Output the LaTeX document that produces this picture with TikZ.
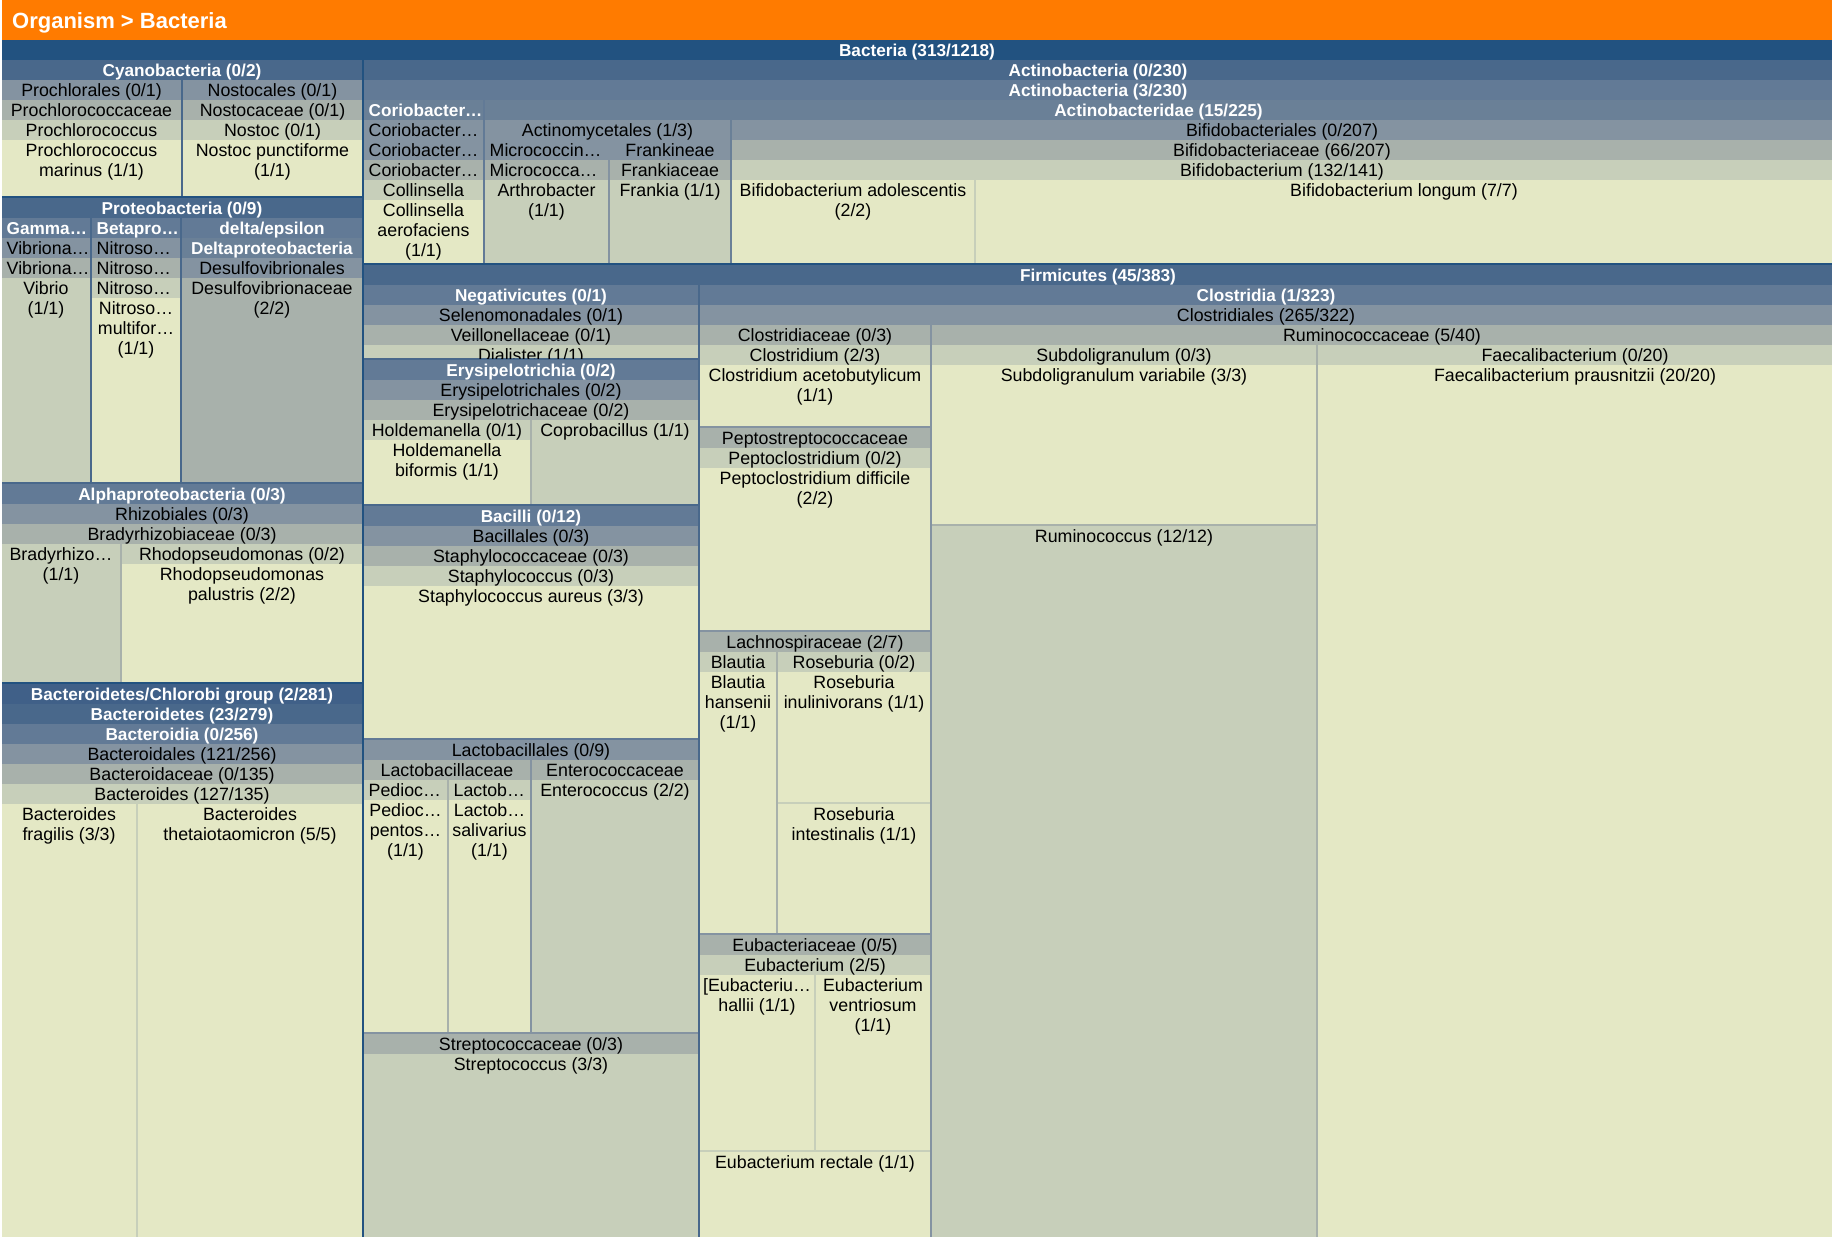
\documentclass[tikz,border=0pt]{standalone}
\usepackage{fontspec}
\setmainfont{Liberation Sans}
\usepackage{tikz}
\definecolor{orangebar}{RGB}{255,123,0}
\definecolor{bactblue}{RGB}{34,82,128}
\definecolor{superblue}{RGB}{64,96,136}
\definecolor{phylblue}{RGB}{73,104,139}
\definecolor{classblue}{RGB}{98,122,150}
\definecolor{subblue}{RGB}{106,128,151}
\definecolor{ordgray}{RGB}{132,147,161}
\definecolor{famgray}{RGB}{168,177,171}
\definecolor{gengreen}{RGB}{199,207,186}
\definecolor{spyellow}{RGB}{228,232,197}

\tikzset{
	lab/.style={font=\fontsize{17.8}{20}\selectfont, text=black, inner sep=0pt, align=center},
	hlab/.style={font=\fontsize{17.2}{20}\selectfont\bfseries, text=white, inner sep=0pt, align=center},
	titlelab/.style={font=\fontsize{22}{26}\selectfont\bfseries, text=white, inner sep=0pt}
}

% box of the treemap: name, fill, label style, x1, y1, x2, y2, text
\newcommand\taxbox[8]{%
	\fill[#2] (#4,#5) rectangle (#6,#7);
	\begin{scope}
		\clip (#4,#5) rectangle (#6,#7);
		\node[#3, anchor=north] (#1) at ({(#4+#6)/2},{#5+2.3}) {\rule{0pt}{14pt}#8};
	\end{scope}}
% same, label cut short and set from the left
\newcommand\taxboxl[8]{%
	\fill[#2] (#4,#5) rectangle (#6,#7);
	\begin{scope}
		\clip (#4,#5) rectangle (#6,#7);
		\node[#3, anchor=north west] (#1) at ({#4+4.5},{#5+2.3}) {\rule{0pt}{14pt}#8};
	\end{scope}}

\begin{document}
\begin{tikzpicture}[x=1pt,y=-1pt]
	\useasboundingbox (0,0) rectangle (1832,1237);
	\fill[white] (0,0) rectangle (1832,1237);
	\fill[orangebar] (2,0) rectangle (1832,40);
	\node[titlelab, anchor=base west] (title) at (12,28.5) {Organism > Bacteria};

	\taxbox{bacteria}{bactblue}{hlab}{2}{40}{1832}{1237}{Bacteria (313/1218)}

	% Cyanobacteria
	\taxbox{cyano}{phylblue}{hlab}{2}{60}{362}{196}{Cyanobacteria (0/2)}
	\taxbox{prochlord}{ordgray}{lab}{2}{80}{181}{196}{Prochlorales (0/1)}
	\taxbox{prochlfam}{famgray}{lab}{2}{100}{181}{196}{Prochlorococcaceae}
	\taxbox{prochlgen}{gengreen}{lab}{2}{120}{181}{196}{Prochlorococcus}
	\taxbox{prochlsp}{spyellow}{lab}{2}{140}{181}{196}{Prochlorococcus\\marinus (1/1)}
	\taxbox{nostocord}{ordgray}{lab}{183}{80}{362}{196}{Nostocales (0/1)}
	\taxbox{nostocfam}{famgray}{lab}{183}{100}{362}{196}{Nostocaceae (0/1)}
	\taxbox{nostocgen}{gengreen}{lab}{183}{120}{362}{196}{Nostoc (0/1)}
	\taxbox{nostocsp}{spyellow}{lab}{183}{140}{362}{196}{Nostoc punctiforme\\(1/1)}

	% Proteobacteria
	\taxbox{proteo}{phylblue}{hlab}{2}{198}{362}{682}{Proteobacteria (0/9)}
	\taxboxl{gamma}{classblue}{hlab}{2}{218}{90}{482}{Gamma…}
	\taxboxl{vibrord}{ordgray}{lab}{2}{238}{90}{482}{Vibriona…}
	\taxboxl{vibrfam}{famgray}{lab}{2}{258}{90}{482}{Vibriona…}
	\taxbox{vibrio}{gengreen}{lab}{2}{278}{90}{482}{Vibrio\\(1/1)}
	\taxboxl{beta}{classblue}{hlab}{92}{218}{180}{482}{Betapro…}
	\taxboxl{nitrord}{ordgray}{lab}{92}{238}{180}{482}{Nitroso…}
	\taxboxl{nitrfam}{famgray}{lab}{92}{258}{180}{482}{Nitroso…}
	\taxboxl{nitrgen}{gengreen}{lab}{92}{278}{180}{482}{Nitroso…}
	\taxbox{nitrsp}{spyellow}{lab}{92}{298}{180}{482}{Nitroso…\\multifor…\\(1/1)}
	\taxbox{deltaeps}{classblue}{hlab}{182}{218}{362}{482}{delta/epsilon}
	\taxbox{delta}{subblue}{hlab}{182}{238}{362}{482}{Deltaproteobacteria}
	\taxbox{desulford}{ordgray}{lab}{182}{258}{362}{482}{Desulfovibrionales}
	\taxbox{desulffam}{famgray}{lab}{182}{278}{362}{482}{Desulfovibrionaceae\\(2/2)}
	\taxbox{alpha}{classblue}{hlab}{2}{484}{362}{682}{Alphaproteobacteria (0/3)}
	\taxbox{rhizord}{ordgray}{lab}{2}{504}{362}{682}{Rhizobiales (0/3)}
	\taxbox{bradyfam}{famgray}{lab}{2}{524}{362}{682}{Bradyrhizobiaceae (0/3)}
	\taxbox{bradygen}{gengreen}{lab}{2}{544}{120}{682}{Bradyrhizo…\\(1/1)}
	\taxbox{rhodogen}{gengreen}{lab}{122}{544}{362}{682}{Rhodopseudomonas (0/2)}
	\taxbox{rhodosp}{spyellow}{lab}{122}{564}{362}{682}{Rhodopseudomonas\\palustris (2/2)}

	% Bacteroidetes
	\taxbox{bactgroup}{superblue}{hlab}{2}{684}{362}{1237}{Bacteroidetes/Chlorobi group (2/281)}
	\taxbox{bactphyl}{phylblue}{hlab}{2}{704}{362}{1237}{Bacteroidetes (23/279)}
	\taxbox{bactcls}{classblue}{hlab}{2}{724}{362}{1237}{Bacteroidia (0/256)}
	\taxbox{bactord}{ordgray}{lab}{2}{744}{362}{1237}{Bacteroidales (121/256)}
	\taxbox{bactfam}{famgray}{lab}{2}{764}{362}{1237}{Bacteroidaceae (0/135)}
	\taxbox{bactgen}{gengreen}{lab}{2}{784}{362}{1237}{Bacteroides (127/135)}
	\taxbox{fragilis}{spyellow}{lab}{2}{804}{136}{1237}{Bacteroides\\fragilis (3/3)}
	\taxbox{theta}{spyellow}{lab}{138}{804}{362}{1237}{Bacteroides\\thetaiotaomicron (5/5)}

	% Actinobacteria
	\taxbox{actinophyl}{phylblue}{hlab}{364}{60}{1832}{263}{Actinobacteria (0/230)}
	\taxbox{actinocls}{classblue}{hlab}{364}{80}{1832}{263}{Actinobacteria (3/230)}
	\taxboxl{corio}{subblue}{hlab}{364}{100}{483}{263}{Coriobacter…}
	\taxboxl{corioord}{ordgray}{lab}{364}{120}{483}{263}{Coriobacter…}
	\taxboxl{coriosub}{ordgray}{lab}{364}{140}{483}{263}{Coriobacter…}
	\taxboxl{coriofam}{famgray}{lab}{364}{160}{483}{263}{Coriobacter…}
	\taxbox{collgen}{gengreen}{lab}{364}{180}{483}{263}{Collinsella}
	\taxbox{collsp}{spyellow}{lab}{364}{200}{483}{263}{Collinsella\\aerofaciens\\(1/1)}
	\taxbox{actinobdae}{subblue}{hlab}{485}{100}{1832}{263}{Actinobacteridae (15/225)}
	\taxbox{actinomyc}{ordgray}{lab}{485}{120}{730}{263}{Actinomycetales (1/3)}
	\taxboxl{microsub}{ordgray}{lab}{485}{140}{608}{263}{Micrococcin…}
	\taxboxl{microfam}{famgray}{lab}{485}{160}{608}{263}{Micrococca…}
	\taxbox{arthro}{gengreen}{lab}{485}{180}{608}{263}{Arthrobacter\\(1/1)}
	\taxbox{frankisub}{ordgray}{lab}{610}{140}{730}{263}{Frankineae}
	\taxbox{frankifam}{famgray}{lab}{610}{160}{730}{263}{Frankiaceae}
	\taxbox{frankia}{gengreen}{lab}{610}{180}{730}{263}{Frankia (1/1)}
	\taxbox{bifidord}{ordgray}{lab}{732}{120}{1832}{263}{Bifidobacteriales (0/207)}
	\taxbox{bifidfam}{famgray}{lab}{732}{140}{1832}{263}{Bifidobacteriaceae (66/207)}
	\taxbox{bifidgen}{gengreen}{lab}{732}{160}{1832}{263}{Bifidobacterium (132/141)}
	\taxbox{adolesc}{spyellow}{lab}{732}{180}{974}{263}{Bifidobacterium adolescentis\\(2/2)}
	\taxbox{longum}{spyellow}{lab}{976}{180}{1832}{263}{Bifidobacterium longum (7/7)}

	% Firmicutes
	\taxbox{firmi}{phylblue}{hlab}{364}{265}{1832}{1237}{Firmicutes (45/383)}
	\taxbox{negati}{classblue}{hlab}{364}{285}{698}{358}{Negativicutes (0/1)}
	\taxbox{selenord}{ordgray}{lab}{364}{305}{698}{358}{Selenomonadales (0/1)}
	\taxbox{veillfam}{famgray}{lab}{364}{325}{698}{358}{Veillonellaceae (0/1)}
	\taxbox{dialister}{gengreen}{lab}{364}{345}{698}{358}{Dialister (1/1)}
	\taxbox{erysip}{classblue}{hlab}{364}{360}{698}{504}{Erysipelotrichia (0/2)}
	\taxbox{erysipord}{ordgray}{lab}{364}{380}{698}{504}{Erysipelotrichales (0/2)}
	\taxbox{erysipfam}{famgray}{lab}{364}{400}{698}{504}{Erysipelotrichaceae (0/2)}
	\taxbox{holdgen}{gengreen}{lab}{364}{420}{530}{504}{Holdemanella (0/1)}
	\taxbox{holdsp}{spyellow}{lab}{364}{440}{530}{504}{Holdemanella\\biformis (1/1)}
	\taxbox{coprob}{gengreen}{lab}{532}{420}{698}{504}{Coprobacillus (1/1)}
	\taxbox{bacilli}{classblue}{hlab}{364}{506}{698}{1237}{Bacilli (0/12)}
	\taxbox{bacillord}{ordgray}{lab}{364}{526}{698}{738}{Bacillales (0/3)}
	\taxbox{staphfam}{famgray}{lab}{364}{546}{698}{738}{Staphylococcaceae (0/3)}
	\taxbox{staphgen}{gengreen}{lab}{364}{566}{698}{738}{Staphylococcus (0/3)}
	\taxbox{aureus}{spyellow}{lab}{364}{586}{698}{738}{Staphylococcus aureus (3/3)}
	\taxbox{lactobord}{ordgray}{lab}{364}{740}{698}{1237}{Lactobacillales (0/9)}
	\taxbox{lactobfam}{famgray}{lab}{364}{760}{530}{1032}{Lactobacillaceae}
	\taxboxl{pediogen}{gengreen}{lab}{364}{780}{447}{1032}{Pedioc…}
	\taxbox{pediosp}{spyellow}{lab}{364}{800}{447}{1032}{Pedioc…\\pentos…\\(1/1)}
	\taxboxl{lactobgen}{gengreen}{lab}{449}{780}{530}{1032}{Lactob…}
	\taxbox{lactobsp}{spyellow}{lab}{449}{800}{530}{1032}{Lactob…\\salivarius\\(1/1)}
	\taxbox{enterofam}{famgray}{lab}{532}{760}{698}{1032}{Enterococcaceae}
	\taxbox{enterogen}{gengreen}{lab}{532}{780}{698}{1032}{Enterococcus (2/2)}
	\taxbox{streptofam}{famgray}{lab}{364}{1034}{698}{1237}{Streptococcaceae (0/3)}
	\taxbox{streptogen}{gengreen}{lab}{364}{1054}{698}{1237}{Streptococcus (3/3)}
	\taxbox{clostcls}{classblue}{hlab}{700}{285}{1832}{1237}{Clostridia (1/323)}
	\taxbox{clostord}{ordgray}{lab}{700}{305}{1832}{1237}{Clostridiales (265/322)}
	\taxbox{clostfam}{famgray}{lab}{700}{325}{930}{426}{Clostridiaceae (0/3)}
	\taxbox{clostgen}{gengreen}{lab}{700}{345}{930}{426}{Clostridium (2/3)}
	\taxbox{acetob}{spyellow}{lab}{700}{365}{930}{426}{Clostridium acetobutylicum\\(1/1)}
	\taxbox{peptofam}{famgray}{lab}{700}{428}{930}{630}{Peptostreptococcaceae}
	\taxbox{peptogen}{gengreen}{lab}{700}{448}{930}{630}{Peptoclostridium (0/2)}
	\taxbox{difficile}{spyellow}{lab}{700}{468}{930}{630}{Peptoclostridium difficile\\(2/2)}
	\taxbox{lachnofam}{famgray}{lab}{700}{632}{930}{933}{Lachnospiraceae (2/7)}
	\taxbox{blautgen}{gengreen}{lab}{700}{652}{776}{933}{Blautia}
	\taxbox{hansenii}{spyellow}{lab}{700}{672}{776}{933}{Blautia\\hansenii\\(1/1)}
	\taxbox{rosebgen}{gengreen}{lab}{778}{652}{930}{933}{Roseburia (0/2)}
	\taxbox{inulin}{spyellow}{lab}{778}{672}{930}{802}{Roseburia\\inulinivorans (1/1)}
	\taxbox{intest}{spyellow}{lab}{778}{804}{930}{933}{Roseburia\\intestinalis (1/1)}
	\taxbox{eubactfam}{famgray}{lab}{700}{935}{930}{1237}{Eubacteriaceae (0/5)}
	\taxbox{eubactgen}{gengreen}{lab}{700}{955}{930}{1237}{Eubacterium (2/5)}
	\taxbox{hallii}{spyellow}{lab}{700}{975}{814}{1150}{[Eubacteriu…\\hallii (1/1)}
	\taxbox{ventrio}{spyellow}{lab}{816}{975}{930}{1150}{Eubacterium\\ventriosum\\(1/1)}
	\taxbox{rectale}{spyellow}{lab}{700}{1152}{930}{1237}{Eubacterium rectale (1/1)}
	\taxbox{ruminofam}{famgray}{lab}{932}{325}{1832}{1237}{Ruminococcaceae (5/40)}
	\taxbox{subdogen}{gengreen}{lab}{932}{345}{1316}{524}{Subdoligranulum (0/3)}
	\taxbox{variab}{spyellow}{lab}{932}{365}{1316}{524}{Subdoligranulum variabile (3/3)}
	\taxbox{rumino}{gengreen}{lab}{932}{526}{1316}{1237}{Ruminococcus (12/12)}
	\taxbox{faecgen}{gengreen}{lab}{1318}{345}{1832}{1237}{Faecalibacterium (0/20)}
	\taxbox{prausn}{spyellow}{lab}{1318}{365}{1832}{1237}{Faecalibacterium prausnitzii (20/20)}
\end{tikzpicture}
\end{document}
